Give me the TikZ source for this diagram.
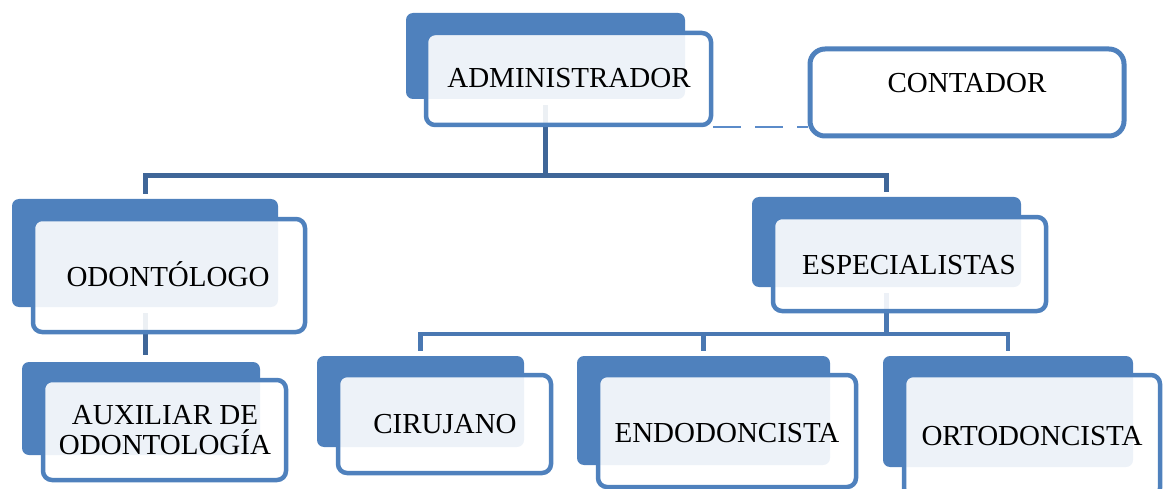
\documentclass[tikz,border=0pt]{standalone}
\usepackage{fontspec}
\setmainfont{Liberation Serif}
\usetikzlibrary{fit}

\definecolor{boxblue}{HTML}{4F81BD}
\definecolor{treeblue}{HTML}{3F6698}
\definecolor{subblue}{HTML}{4A78B2}
\definecolor{dashblue}{HTML}{5B8BC9}

\pgfdeclarelayer{background}
\pgfsetlayers{background,main}

\tikzset{
  backbox/.style={fill=boxblue, draw=none, rounded corners=7pt, inner sep=0pt},
  frontbox/.style={draw=boxblue, line width=4.5pt, fill=white, fill opacity=0.9,
    draw opacity=1, rounded corners=9pt, inner sep=0pt},
  plainbox/.style={draw=boxblue, line width=5pt, fill=white, rounded corners=15pt, inner sep=0pt},
  boxlabel/.style={font=\fontsize{29}{30}\selectfont, inner sep=0pt, text=black, align=center},
  trunk/.style={draw=treeblue, line width=5pt},
  branch/.style={draw=subblue, line width=4.5pt},
  staff/.style={draw=dashblue, line width=2pt, dash pattern=on 28pt off 14pt},
}

% a unit: #1 name, #2-#5 back panel corners, #6-#9 framed panel corners
\newcommand\orgunit[9]{%
  \node[backbox, fit={(#2,#3) (#4,#5)}] (#1-b) {};
  \node[frontbox, fit={(#6,#7) (#8,#9)}] (#1-f) {};
}

\begin{document}
\begin{tikzpicture}[x=1pt, y=-1pt]
  \clip (0,0) rectangle (1164,489);

  % boxes
  \orgunit{adm}{406}{13}{685}{99}{426}{33}{711}{125}
  \orgunit{odo}{12}{199}{278}{307}{33}{219}{305}{332}
  \orgunit{esp}{752}{197}{1021}{287}{773}{217}{1046}{311}
  \orgunit{aux}{22}{362}{260}{455}{43}{380}{286}{480}
  \orgunit{cir}{317}{356}{524}{447}{338}{375}{551}{473}
  \orgunit{end}{577}{356}{830}{465}{598}{375}{856}{487}
  \orgunit{ort}{883}{356}{1133}{467}{904}{375}{1160}{497}
  \node[plainbox, fit={(810,49) (1124,136)}] (con) {};

  % labels
  \node[boxlabel, anchor=base] (adm-t) at (569,88) {ADMINISTRADOR};
  \node[boxlabel, anchor=base] (con-t) at (967,93) {CONTADOR};
  \node[boxlabel, anchor=base] (odo-t) at (168,286) {ODONTÓLOGO};
  \node[boxlabel, anchor=base] (esp-t) at (909,274) {ESPECIALISTAS};
  \node[boxlabel, anchor=south] (aux-t) at (165,455) {AUXILIAR DE\\ODONTOLOGÍA};
  \node[boxlabel, anchor=base] (cir-t) at (445,433) {CIRUJANO};
  \node[boxlabel, anchor=base] (end-t) at (727,442) {ENDODONCISTA};
  \node[boxlabel, anchor=base] (ort-t) at (1032,445) {ORTODONCISTA};

  % connectors, kept beneath the boxes
  \coordinate (hub) at (545,176);
  \coordinate (hub2) at (886,334);
  \begin{pgfonlayer}{background}
    \draw[trunk, shorten <=6pt] (adm-b.south) -- (adm-b.south |- hub);
    \draw[trunk, shorten <=5pt, shorten >=5pt]
      (odo-b.north) -- (odo-b.north |- hub) -- (esp-b.north |- hub) -- (esp-b.north);
    \draw[trunk, shorten <=6pt, shorten >=7pt] (odo-b.south) -- (odo-b.south |- aux-b.north);
    \draw[branch, shorten <=6pt] (esp-b.south) -- (esp-b.south |- hub2);
    \draw[branch, shorten <=5pt, shorten >=5pt]
      (cir-b.north) -- (cir-b.north |- hub2) -- (ort-b.north |- hub2) -- (ort-b.north);
    \draw[branch, shorten >=5pt] (end-b.north |- hub2) -- (end-b.north);
    \draw[staff] (adm-f.south east) -- (adm-f.south east -| con.west);
  \end{pgfonlayer}
\end{tikzpicture}
\end{document}
